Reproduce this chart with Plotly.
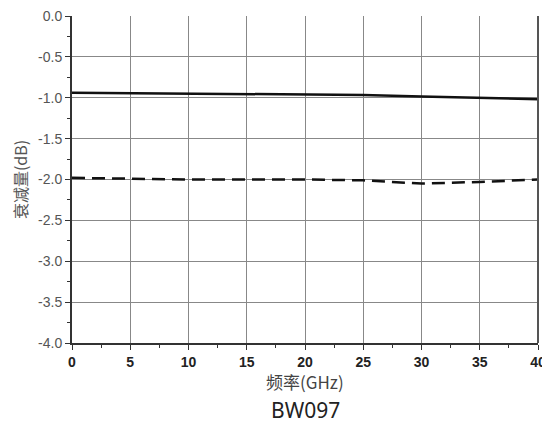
import plotly.graph_objects as go

freq = [0, 5, 10, 15, 20, 25, 30, 35, 40]
solid_db = [-0.94, -0.945, -0.95, -0.955, -0.96, -0.965, -0.985, -1.0, -1.017]
dashed_db = [-1.98, -1.99, -2.0, -2.0, -2.0, -2.01, -2.05, -2.03, -2.0]
x_ticks = [0, 5, 10, 15, 20, 25, 30, 35, 40]
y_ticks = [0.0, -0.5, -1.0, -1.5, -2.0, -2.5, -3.0, -3.5, -4.0]
y_labels = ["0.0", "-0.5", "-1.0", "-1.5", "-2.0", "-2.5", "-3.0", "-3.5", "-4.0"]

fig = go.Figure()
fig.add_trace(go.Scatter(x=freq, y=solid_db, mode="lines",
                         line=dict(color="#111111", width=2.5), showlegend=False))
fig.add_trace(go.Scatter(x=freq, y=dashed_db, mode="lines",
                         line=dict(color="#111111", width=2.5, dash="13px,7px"), showlegend=False))

fig.update_layout(
    width=542, height=425,
    margin=dict(l=64, r=12, t=8, b=90),
    plot_bgcolor="white", paper_bgcolor="white",
    font=dict(family="Liberation Sans, Arial, sans-serif", color="#333333"),
    xaxis=dict(range=[0, 40], tickvals=x_ticks, showgrid=True, gridcolor="#888888", gridwidth=1,
               showline=True, linecolor="#333333", linewidth=2, mirror=False, automargin=False,
               ticks="outside", ticklen=5, tickcolor="#333333", ticklabeloverflow="allow",
               minor=dict(dtick=2.5, ticks="outside", ticklen=3, tickcolor="#333333", showgrid=False),
               tickfont=dict(size=14, color="#222222", family="Liberation Sans, Arial, sans-serif", weight="bold"),
               zeroline=False),
    yaxis=dict(range=[-4.0, 0.0], tickvals=y_ticks, ticktext=y_labels, showgrid=True,
               gridcolor="#888888", gridwidth=1, automargin=False,
               showline=True, linecolor="#333333", linewidth=2, ticklabeloverflow="allow",
               ticks="outside", ticklen=5, tickcolor="#333333",
               minor=dict(dtick=0.25, ticks="outside", ticklen=3, tickcolor="#333333", showgrid=False),
               tickfont=dict(size=14, color="#555555"),
               title=dict(text="衰减量(dB)", font=dict(size=16, color="#555555", family="Noto Sans CJK SC"), standoff=8),
               zeroline=False),
    shapes=[dict(type="line", xref="paper", yref="paper", x0=1, x1=1, y0=0, y1=1,
                 line=dict(color="#555555", width=2))],
    annotations=[
        dict(text="频率(GHz)", xref="paper", yref="paper", x=0.5, y=-0.073, yanchor="top",
             showarrow=False, font=dict(size=17, color="#444444", family="Noto Sans CJK SC")),
        dict(text="BW097", xref="paper", yref="paper", x=0.5, y=-0.155, yanchor="top",
             showarrow=False, font=dict(size=21, color="#222222", family="Noto Sans, sans-serif")),
    ],
)

fig.write_html("out.html")
